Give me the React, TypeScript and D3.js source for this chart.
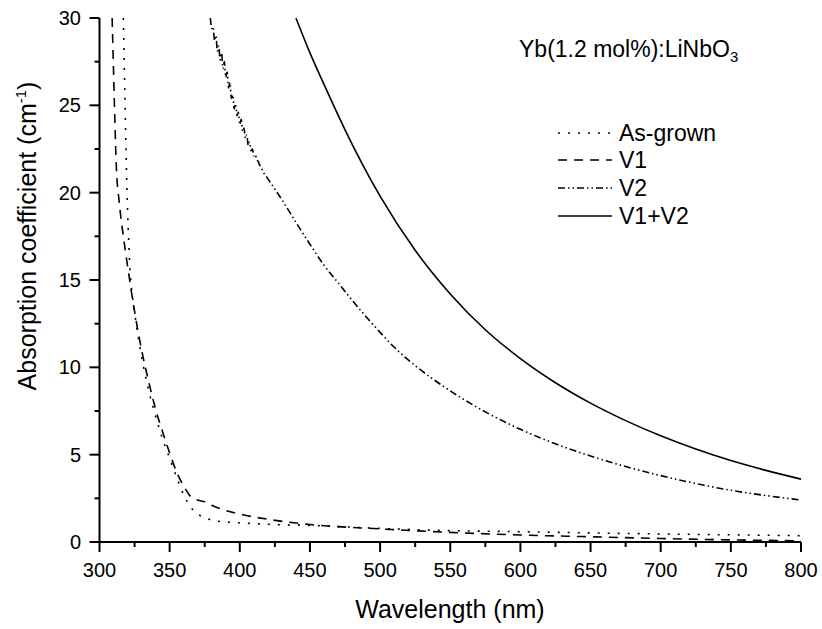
import React from "react";
import * as d3 from "d3";

const xTicks = [300, 350, 400, 450, 500, 550, 600, 650, 700, 750, 800];
const yTicks = [0, 5, 10, 15, 20, 25, 30];

const asGrownX = [317, 318, 319, 320, 321.5, 325, 330, 335, 340, 345, 350, 355, 360, 365, 370, 375, 380, 390, 400, 425, 450, 500, 550, 600, 650, 700, 750, 800];
const asGrownY = [30, 26, 22, 19, 16, 13.2, 10.6, 8.7, 7.2, 5.9, 4.8, 3.7, 2.7, 2.0, 1.6, 1.4, 1.25, 1.15, 1.1, 1.0, 0.95, 0.78, 0.65, 0.59, 0.52, 0.46, 0.41, 0.36];

const v1X = [309, 310, 311, 312, 314, 317, 320, 325, 330, 335, 340, 345, 350, 355, 360, 365, 370, 375, 380, 390, 400, 420, 450, 500, 550, 600, 650, 700, 750, 800];
const v1Y = [30, 27, 24, 21.5, 19.5, 17.5, 15.8, 13.2, 11.0, 9.2, 7.6, 6.3, 5.1, 4.0, 3.2, 2.6, 2.4, 2.3, 2.1, 1.8, 1.6, 1.3, 1.0, 0.75, 0.55, 0.4, 0.3, 0.2, 0.12, 0.07];

const v2X = [379, 380, 381, 382, 383, 384, 385, 386, 387, 388, 389, 390, 391, 392, 393, 394, 395, 396, 397, 398, 399, 400, 401, 402, 403, 404, 405, 406, 407, 408, 409, 410, 411, 412, 413, 414, 415, 416, 420, 430, 440, 452, 460, 470, 480, 490, 500, 512, 525, 550, 575, 600, 625, 650, 675, 700, 725, 750, 775, 800];
const v2Y = [30.0, 29.4, 29.5, 28.7, 29.0, 28.1, 28.4, 27.6, 28.0, 27.1, 27.5, 26.6, 26.9, 26.0, 26.3, 25.4, 25.6, 24.8, 25.1, 24.4, 24.6, 23.9, 24.2, 23.5, 23.7, 23.1, 23.3, 22.7, 22.9, 22.4, 22.5, 22.1, 22.2, 21.9, 21.8, 21.6, 21.5, 21.3, 20.8, 19.6, 18.3, 16.8, 15.85, 14.85, 13.85, 12.9, 12.0, 11.0, 10.1, 8.65, 7.45, 6.45, 5.62, 4.92, 4.32, 3.8, 3.35, 2.96, 2.66, 2.4];

const v12X = [440, 450, 460, 475, 500, 525, 550, 575, 600, 625, 650, 675, 700, 725, 750, 775, 800];
const v12Y = [30, 28.0, 26.2, 23.6, 19.8, 16.7, 14.2, 12.15, 10.5, 9.12, 7.95, 6.95, 6.08, 5.32, 4.66, 4.1, 3.6];

const seriesNames = ["As-grown", "V1", "V2", "V1+V2"];
const seriesDash = ["2,8", "9,7", "7,3,1.5,3,1.5,3", "none"];

const W = 822;
const H = 629;
const FONT = "'Liberation Sans', Arial, Helvetica, sans-serif";

export default function App() {
  const x = d3.scaleLinear().domain([300, 800]).range([99.5, 801]);
  const y = d3.scaleLinear().domain([0, 30]).range([542, 18]);
  const [x0, x1] = x.range();
  const [y0, y1] = y.range();

  const line = d3
    .line<[number, number]>()
    .x((d) => x(d[0]))
    .y((d) => y(d[1]))
    .curve(d3.curveMonotoneX);

  const data = [
    { xs: asGrownX, ys: asGrownY },
    { xs: v1X, ys: v1Y },
    { xs: v2X, ys: v2Y },
    { xs: v12X, ys: v12Y },
  ];

  const xMinor = d3.range(300, 801, 25).filter((v) => v % 50 !== 0);
  const yMinor = d3.range(0, 30.01, 2.5).filter((v) => v % 5 !== 0);

  const legendRows = [133, 160, 188, 216];

  return (
    <svg
      width={W}
      height={H}
      style={{ position: "absolute", left: 0, top: 0, background: "#fff" }}
      fontFamily={FONT}
    >
      <defs>
        <clipPath id="plotclip">
          <rect x={x0} y={y1} width={x1 - x0 + 1} height={y0 - y1} />
        </clipPath>
      </defs>
      <rect x={0} y={0} width={W} height={H} fill="#fff" />

      <g clipPath="url(#plotclip)">
        {data.map((s, i) => (
          <path
            key={i}
            d={line(s.xs.map((v, j) => [v, s.ys[j]] as [number, number])) || ""}
            fill="none"
            stroke="#000"
            strokeWidth={1.6}
            strokeDasharray={seriesDash[i]}
          />
        ))}
      </g>

      {/* axes */}
      <line x1={x0} x2={x1} y1={y0} y2={y0} stroke="#000" strokeWidth={2} />
      <line x1={x0} x2={x0} y1={y0} y2={y1} stroke="#000" strokeWidth={2} />

      {xTicks.map((t) => (
        <g key={"xt" + t}>
          <line x1={x(t)} x2={x(t)} y1={y0} y2={y0 + 10} stroke="#000" strokeWidth={2} />
          <text x={x(t)} y={577} textAnchor="middle" fontSize={20}>
            {t}
          </text>
        </g>
      ))}
      {xMinor.map((t) => (
        <line key={"xm" + t} x1={x(t)} x2={x(t)} y1={y0} y2={y0 + 5} stroke="#000" strokeWidth={2} />
      ))}

      {yTicks.map((t) => (
        <g key={"yt" + t}>
          <line x1={x0 - 10} x2={x0} y1={y(t)} y2={y(t)} stroke="#000" strokeWidth={2} />
          <text x={81} y={y(t) + 7} textAnchor="end" fontSize={20}>
            {t}
          </text>
        </g>
      ))}
      {yMinor.map((t) => (
        <line key={"ym" + t} x1={x0 - 5} x2={x0} y1={y(t)} y2={y(t)} stroke="#000" strokeWidth={2} />
      ))}

      {/* axis titles */}
      <text x={450} y={618} textAnchor="middle" fontSize={25}>
        Wavelength (nm)
      </text>
      <text transform="translate(36,236) rotate(-90)" textAnchor="middle" fontSize={25}>
        Absorption coefficient (cm
        <tspan dy={-10} fontSize={15}>-1</tspan>
        <tspan dy={10}>)</tspan>
      </text>

      {/* title */}
      <text x={519} y={57} fontSize={23}>
        Yb(1.2 mol%):LiNbO
        <tspan dy={5} fontSize={15}>3</tspan>
      </text>

      {/* legend */}
      {seriesNames.map((n, i) => (
        <g key={n}>
          <line
            x1={558}
            x2={612}
            y1={legendRows[i]}
            y2={legendRows[i]}
            stroke="#000"
            strokeWidth={1.6}
            strokeDasharray={seriesDash[i]}
          />
          <text x={619} y={legendRows[i] + 8} fontSize={23}>
            {n}
          </text>
        </g>
      ))}
    </svg>
  );
}
